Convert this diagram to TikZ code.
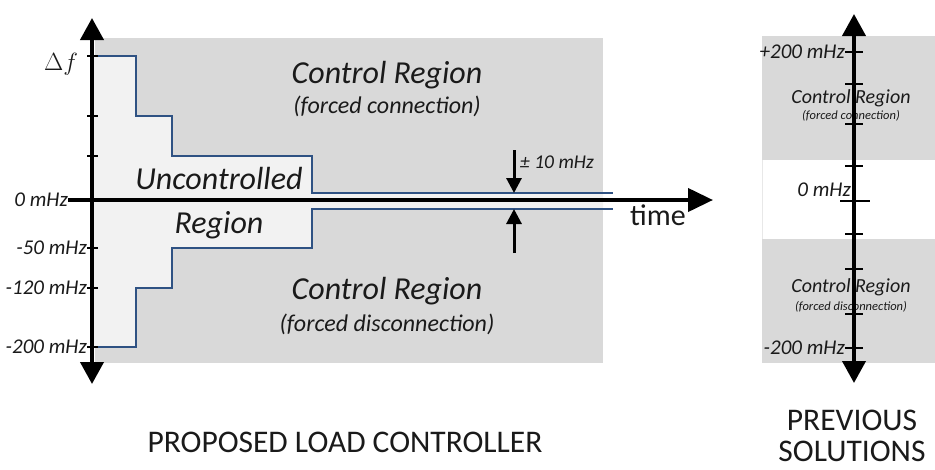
\documentclass[tikz,border=0pt]{standalone}
\usepackage{fontspec}
\setmainfont{Carlito}
\usetikzlibrary{arrows.meta}
\definecolor{regiongray}{HTML}{D9D9D9}
\definecolor{lightfill}{HTML}{F2F2F2}
\definecolor{stepblue}{HTML}{2F5283}
\definecolor{txt}{HTML}{1A1A1A}
\tikzset{
  axisline/.style={line width=4pt, {Triangle[length=22pt,width=23pt]}-{Triangle[length=22pt,width=23pt]}},
  haxis/.style={line width=4pt, -{Triangle[length=25pt,width=23pt]}},
  tickmark/.style={line width=1.6pt},
  stepline/.style={stepblue, line width=2.6pt},
  bigit/.style={text=txt, font=\fontsize{32}{38}\selectfont\itshape, inner sep=0pt},
  smallit/.style={text=txt, font=\fontsize{24}{29}\selectfont\itshape, inner sep=0pt},
  labelit/.style={text=txt, font=\fontsize{21}{25}\selectfont\itshape, inner sep=0pt},
  midit/.style={text=txt, font=\fontsize{20}{24}\selectfont\itshape, inner sep=0pt},
  tinyit/.style={text=txt, font=\fontsize{12.5}{15}\selectfont\itshape, inner sep=0pt},
  caption/.style={text=txt, font=\fontsize{31.5}{38}\selectfont, inner sep=0pt},
  bandarrow/.style={line width=3pt, -{Triangle[length=15pt,width=15pt]}},
}
\begin{document}
\begin{tikzpicture}[x=1pt,y=-1pt]
\useasboundingbox (0,0) rectangle (935,469);
% ---------- left panel ----------
\fill[regiongray] (95,38) rectangle (603,363);
\fill[lightfill] (92,56) -- (136,56) -- (136,116) -- (172,116) -- (172,156) -- (312,156) -- (312,193) -- (603,193)
  -- (603,209) -- (312,209) -- (312,248) -- (172,248) -- (172,288) -- (136,288) -- (136,347) -- (92,347) -- cycle;
\draw[stepline] (92,56) -- (136,56) -- (136,116) -- (172,116) -- (172,156) -- (312,156) -- (312,193) -- (613,193);
\draw[stepline] (92,347) -- (136,347) -- (136,288) -- (172,288) -- (172,248) -- (312,248) -- (312,209) -- (613,209);

\node[bigit] (cr1) at (387,75) {Control Region};
\node[smallit] (fc1) at (387,106) {(forced connection)};
\node[bigit] (unc) at (219,179) {Uncontrolled};
\node[bigit] (reg) at (219,225) {Region};
\node[bigit] (cr2) at (387,291) {Control Region};
\node[smallit] (fd1) at (387,324) {(forced disconnection)};
\node[text=txt, font=\fontsize{30}{36}\selectfont, inner sep=0pt] (time) at (658,215) {time};
\node[text=txt, inner sep=0pt, font=\fontsize{34}{40}\selectfont] (df) at (61,64) {$\Delta f$};

\node[labelit, anchor=east] (l0) at (68,200) {0 mHz};
\node[labelit, anchor=east] (l50) at (87,248) {-50 mHz};
\node[labelit, anchor=east] (l120) at (87,288) {-120 mHz};
\node[labelit, anchor=east] (l200) at (87,347) {-200 mHz};
\node[labelit, anchor=west, font=\fontsize{19.5}{23}\selectfont\itshape] (pm) at (520,162) {\symbol{"00B1} 10 mHz};

\foreach \yy in {56,116,156,248,288,347} \draw[tickmark] (87,\yy) -- (98,\yy);

\coordinate (vtop) at (92,18);
\coordinate (vbot) at (92,384);
\coordinate (hstart) at (68,200);
\coordinate (hend) at (713,200);
\draw[axisline] (vbot) -- (vtop);
\draw[haxis] (hstart) -- (hend);

\coordinate (dnstart) at (514,150);
\coordinate (dnend) at (514,193);
\coordinate (upstart) at (514,253);
\coordinate (upend) at (514,209);
\draw[bandarrow] (dnstart) -- (dnend);
\draw[bandarrow] (upstart) -- (upend);

\node[caption] (cap1) at (345,442) {PROPOSED LOAD CONTROLLER};

% ---------- right panel ----------
\fill[regiongray] (762,36) rectangle (935,160);
\draw[regiongray!60, line width=0.8pt] (762.5,160) -- (762.5,239);
\fill[regiongray] (762,239) rectangle (935,363);

\node[midit] (cr3) at (851,98) {Control Region};
\node[tinyit] (fc3) at (851,116) {(forced connection)};
\node[midit] (cr4) at (851,287) {Control Region};
\node[tinyit] (fd4) at (851,307) {(forced disconnection)};
\node[labelit, anchor=east] (r200) at (845,52) {+200 mHz};
\node[labelit, anchor=east] (r0) at (851,190) {0 mHz};
\node[labelit, anchor=east] (rm200) at (845,348) {-200 mHz};

\foreach \yy in {52,84,124,166,234,269,314,348} \draw[tickmark] (845,\yy) -- (863,\yy);
\draw[tickmark] (840,201) -- (870,201);

\coordinate (rtop) at (854,14);
\coordinate (rbot) at (854,383);
\draw[axisline] (rbot) -- (rtop);

\node[caption] (cap2) at (852,420) {PREVIOUS};
\node[caption] (cap3) at (852,451) {SOLUTIONS};
\end{tikzpicture}
\end{document}
